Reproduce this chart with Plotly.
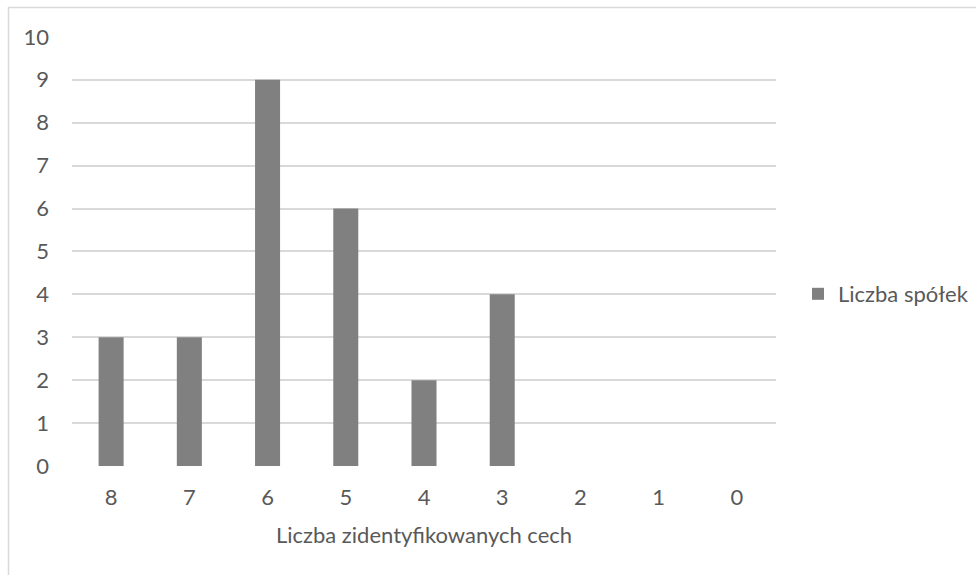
import plotly.graph_objects as go

# Number of identified features (categories) and number of companies per category
cechy = ["8", "7", "6", "5", "4", "3", "2", "1", "0"]
liczba_spolek = [3, 3, 9, 6, 2, 4, 0, 0, 0]
y_ticks = list(range(0, 11))

text_color = "#595959"
grid_color = "#d9d9d9"
font_family = "Lato, 'Noto Sans', sans-serif"
font_size = 22

fig = go.Figure()
fig.add_trace(go.Bar(
    x=cechy,
    y=liczba_spolek,
    name="Liczba spółek",
    marker=dict(color="#808080", line=dict(width=0)),
    showlegend=True,
))

# Margins chosen so the plot area spans px 72..776 horizontally and 37..466 vertically
L, R, T, B = 72, 200, 36, 109
W, H = 976, 575
pw, ph = W - L - R, H - T - B

def px_x(p):
    return (p - L) / pw

def px_y(p):
    return (H - B - p) / ph

# Chart-area border (top and left edges visible)
fig.add_shape(
    type="path",
    xref="paper", yref="paper",
    path=f"M {px_x(8.5)} {px_y(580)} L {px_x(8.5)} {px_y(7.5)} L {px_x(980)} {px_y(7.5)}",
    line=dict(color=grid_color, width=1.5),
    layer="below",
)

fig.update_layout(
    width=W, height=H,
    margin=dict(l=L, r=R, t=T, b=B, pad=0, autoexpand=False),
    paper_bgcolor="white",
    plot_bgcolor="white",
    font=dict(family=font_family, size=font_size, color=text_color),
    bargap=0.68,
    showlegend=True,
    legend=dict(
        xref="container", yref="container",
        x=798 / W, y=1 - 294 / H, xanchor="left", yanchor="middle",
        font=dict(size=font_size, color=text_color),
        itemwidth=30,
        bgcolor="rgba(0,0,0,0)",
    ),
    xaxis=dict(
        type="category",
        categoryorder="array",
        categoryarray=cechy,
        showgrid=False,
        showline=False,
        zeroline=False,
        ticks="",
        ticklabelstandoff=16,
        tickfont=dict(size=font_size, color=text_color),
        title=dict(text="Liczba zidentyfikowanych cech",
                   font=dict(size=font_size, color=text_color), standoff=18),
    ),
    yaxis=dict(
        range=[0, 10.02],
        tickvals=y_ticks,
        showgrid=True,
        gridcolor=grid_color,
        gridwidth=1.5,
        zeroline=False,
        showline=False,
        ticks="",
        ticklabelstandoff=22,
        tickfont=dict(size=font_size, color=text_color),
    ),
)

fig.write_html("out.html")
